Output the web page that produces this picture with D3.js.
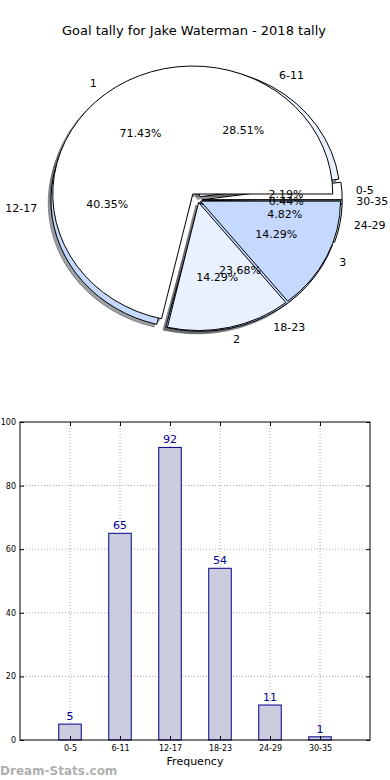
<!DOCTYPE html>
<html>
<head>
<meta charset="utf-8">
<script src="https://cdn.jsdelivr.net/npm/d3@7"></script>
<style>
  body { margin: 0; background: #fff; }
  svg { display: block; font-family: "DejaVu Sans", sans-serif; }
</style>
</head>
<body>
<div id="chart"></div>
<script>
// data
const ranges = ["0-5", "6-11", "12-17", "18-23", "24-29", "30-35"];
const rangeCounts = [5, 65, 92, 54, 11, 1];
const quarters = ["1", "2", "3"];
const quarterCounts = [5, 1, 1];
const yTicks = [0, 20, 40, 60, 80, 100];

const W = 390, H = 780;
const svg = d3.select("#chart").append("svg").attr("width", W).attr("height", H);

svg.append("text")
  .attr("x", 194).attr("y", 30)
  .attr("text-anchor", "middle").attr("dominant-baseline", "central")
  .attr("font-size", 13).attr("fill", "#000")
  .text("Goal tally for Jake Waterman - 2018 tally");

// ---------- pies (elliptical, matplotlib style) ----------
const cx = 198, cy = 200, rx = 140, ry = 128;
const rangeColors = ["#ffffff", "#e9f0fe", "#c5d8fd", "#c5d8fd", "#e9f0fe", "#c5d8fd"];
const quarterColors = ["#ffffff", "#e9f0fe", "#c5d8fd"];
const rangeExplode = [0.03, 0.03, 0.05, 0.03, 0.03, 0.03];
const quarterExplode = [0.06, 0.02, 0.02];

// matplotlib starts at 3 o'clock and goes counter-clockwise
const pie = d3.pie().sort(null).sortValues(null)
  .startAngle(Math.PI / 2).endAngle(Math.PI / 2 - 2 * Math.PI);
const arc = d3.arc().innerRadius(0).outerRadius(1);
const fmt = d3.format(".2f");

function layout(values, labels, colors, explode) {
  const total = d3.sum(values);
  return pie(values).map((d, i) => {
    const mid = (d.startAngle + d.endAngle) / 2;
    const ox = cx + explode[i] * rx * Math.sin(mid);
    const oy = cy - explode[i] * ry * Math.cos(mid);
    return { d, mid, ox, oy, color: colors[i], label: labels[i], pct: fmt(d.value / total * 100) + "%" };
  });
}

const rangeWedges = layout(rangeCounts, ranges, rangeColors, rangeExplode);
const quarterWedges = layout(quarterCounts, quarters, quarterColors, quarterExplode);
const allWedges = rangeWedges.concat(quarterWedges);

function shade(c) {
  const k = d3.rgb(c);
  return d3.rgb(k.r * 0.3, k.g * 0.3, k.b * 0.3).toString();
}

// shadows sit below every wedge
const shadows = svg.append("g").attr("class", "shadows");
shadows.selectAll("path")
  .data(allWedges)
  .enter().append("path")
  .attr("d", (w) => arc(w.d))
  .attr("transform", (w) => `translate(${w.ox - 0.02 * rx},${w.oy + 0.02 * ry}) scale(${rx},${ry})`)
  .attr("fill", (w) => shade(w.color))
  .attr("fill-opacity", 0.5)
  .attr("stroke", (w) => shade(w.color))
  .attr("stroke-opacity", 0.5)
  .attr("vector-effect", "non-scaling-stroke");

[rangeWedges, quarterWedges].forEach((wedges) => {
  svg.append("g").selectAll("path")
    .data(wedges)
    .enter().append("path")
    .attr("d", (w) => arc(w.d))
    .attr("transform", (w) => `translate(${w.ox},${w.oy}) scale(${rx},${ry})`)
    .attr("fill", (w) => w.color)
    .attr("stroke", "#000")
    .attr("stroke-width", 1)
    .attr("stroke-linejoin", "miter")
    .attr("vector-effect", "non-scaling-stroke");
});

const pieText = svg.append("g").attr("font-size", 11).attr("fill", "#000");
// labels outside
pieText.selectAll("text.lbl")
  .data(allWedges)
  .enter().append("text")
  .attr("class", "lbl")
  .attr("x", (w) => w.ox + 1.1 * rx * Math.sin(w.mid))
  .attr("y", (w) => w.oy - 1.1 * ry * Math.cos(w.mid))
  .attr("text-anchor", (w) => Math.sin(w.mid) < 0 ? "end" : "start")
  .attr("dominant-baseline", "central")
  .text((w) => w.label);
// percentages inside
pieText.selectAll("text.pct")
  .data(allWedges)
  .enter().append("text")
  .attr("class", "pct")
  .attr("x", (w) => w.ox + 0.6 * rx * Math.sin(w.mid))
  .attr("y", (w) => w.oy - 0.6 * ry * Math.cos(w.mid))
  .attr("text-anchor", "middle")
  .attr("dominant-baseline", "central")
  .text((w) => w.pct);

// ---------- bar chart ----------
const pLeft = 20, pRight = 370, pTop = 422, pBottom = 740;
const x = d3.scaleLinear().domain([-1, 6]).range([pLeft, pRight]);
const y = d3.scaleLinear().domain([0, 100]).range([pBottom, pTop]);
const barW = x(0.45) - x(0);

const bars = svg.append("g");

// grid
bars.append("g").selectAll("line")
  .data(yTicks.slice(1, -1))
  .enter().append("line")
  .attr("x1", pLeft).attr("x2", pRight)
  .attr("y1", (d) => y(d)).attr("y2", (d) => y(d))
  .attr("stroke", "#aaa").attr("stroke-dasharray", "1,2");
bars.append("g").selectAll("line")
  .data(ranges)
  .enter().append("line")
  .attr("x1", (d, i) => x(i)).attr("x2", (d, i) => x(i))
  .attr("y1", pTop).attr("y2", pBottom)
  .attr("stroke", "#aaa").attr("stroke-dasharray", "1,2");

bars.append("g").selectAll("rect")
  .data(rangeCounts)
  .enter().append("rect")
  .attr("x", (d, i) => x(i) - barW / 2)
  .attr("y", (d) => y(d))
  .attr("width", barW)
  .attr("height", (d) => y(0) - y(d))
  .attr("fill", "#ccccdf")
  .attr("stroke", "#00008b")
  .attr("stroke-width", 1);

bars.append("g").selectAll("text")
  .data(rangeCounts)
  .enter().append("text")
  .attr("x", (d, i) => x(i))
  .attr("y", (d) => y(d) - 4)
  .attr("text-anchor", "middle")
  .attr("font-size", 11)
  .attr("fill", "#00008b")
  .text((d) => d);

// axes with inward ticks
const yAxis = bars.append("g")
  .attr("transform", `translate(${pLeft},0)`)
  .call(d3.axisLeft(y).tickValues(yTicks).tickSizeInner(-4).tickSizeOuter(0).tickPadding(4));
yAxis.select(".domain").remove();
yAxis.selectAll("text").attr("font-size", 8).attr("font-family", "DejaVu Sans").attr("fill", "#000");

bars.append("g")
  .attr("transform", `translate(${pRight},0)`)
  .call(d3.axisRight(y).tickValues(yTicks).tickSizeInner(-4).tickSizeOuter(0).tickFormat(""))
  .select(".domain").remove();

const xAxis = bars.append("g")
  .attr("transform", `translate(0,${pBottom})`)
  .call(d3.axisBottom(x).tickValues(d3.range(ranges.length)).tickFormat((i) => ranges[i])
    .tickSizeInner(-4).tickSizeOuter(0).tickPadding(5));
xAxis.select(".domain").remove();
xAxis.selectAll("text").attr("font-size", 8).attr("font-family", "DejaVu Sans").attr("fill", "#000");

bars.append("g")
  .attr("transform", `translate(0,${pTop})`)
  .call(d3.axisTop(x).tickValues(d3.range(ranges.length)).tickSizeInner(-4).tickSizeOuter(0).tickFormat(""))
  .select(".domain").remove();

bars.append("rect")
  .attr("x", pLeft).attr("y", pTop)
  .attr("width", pRight - pLeft).attr("height", pBottom - pTop)
  .attr("fill", "none").attr("stroke", "#000").attr("stroke-width", 1);

svg.append("text")
  .attr("x", (pLeft + pRight) / 2).attr("y", 761)
  .attr("text-anchor", "middle").attr("dominant-baseline", "central")
  .attr("font-size", 11).attr("fill", "#000")
  .text("Frequency");

svg.append("text")
  .attr("x", 0).attr("y", 771)
  .attr("dominant-baseline", "central")
  .attr("font-size", 12).attr("font-weight", "bold")
  .attr("fill", "#999").attr("fill-opacity", 0.8)
  .text("Dream-Stats.com");
</script>
</body>
</html>
